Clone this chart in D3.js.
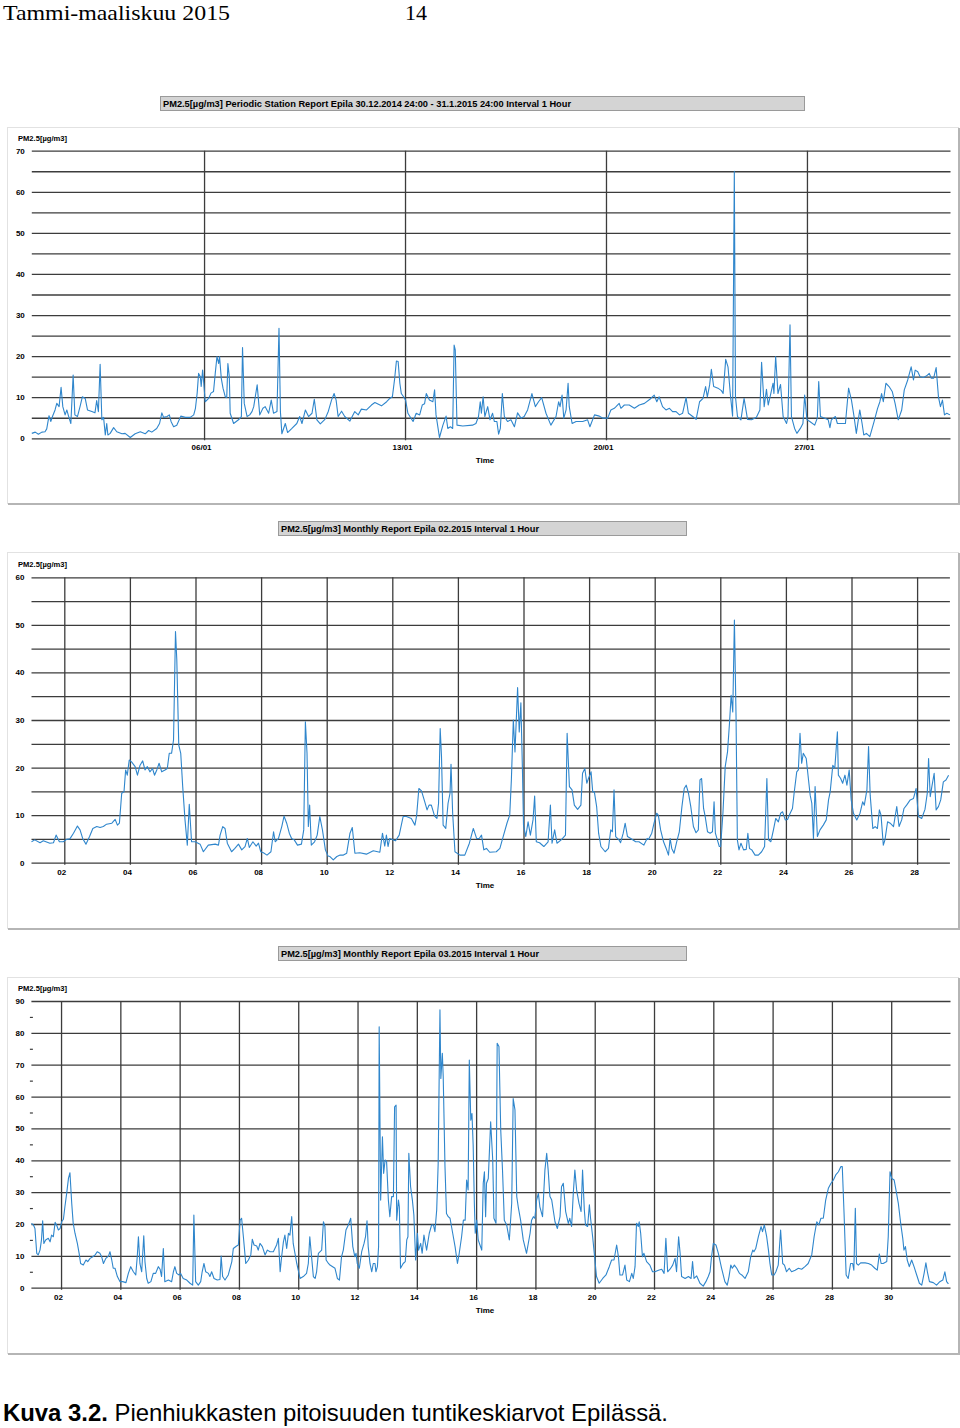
<!DOCTYPE html>
<html><head><meta charset="utf-8">
<script src="https://cdn.jsdelivr.net/npm/d3@7"></script>
<style>body{margin:0;background:#fff}svg{display:block}</style>
</head><body>
<svg id="c" width="960" height="1428"></svg>
<script>
// ---- DATA: [days since period start, PM2.5 µg/m3] ----
const janData = [[0,1.2],[0.12,1.5],[0.23,1.0],[0.35,1.5],[0.46,1.6],[0.52,2.3],[0.6,5.5],[0.66,4.1],[0.73,5.5],[0.81,6.9],[0.87,8.5],[0.95,7.7],[1.02,12.4],[1.08,7.7],[1.16,5.7],[1.22,6.9],[1.28,5.4],[1.36,3.6],[1.44,15.4],[1.5,5.7],[1.59,5.3],[1.68,7.7],[1.76,10.1],[1.86,9.7],[1.94,6.9],[2.09,6.5],[2.2,6.2],[2.26,9.2],[2.32,6.5],[2.38,18.0],[2.44,4.5],[2.5,5.1],[2.56,0.8],[2.61,3.6],[2.65,0.8],[2.73,1.2],[2.85,2.6],[2.96,1.6],[3.14,1.1],[3.25,1.2],[3.43,0.2],[3.6,1.1],[3.78,1.6],[3.95,1.1],[4.07,1.9],[4.18,1.5],[4.35,2.4],[4.45,3.6],[4.53,6.2],[4.59,5.1],[4.71,5.3],[4.79,5.7],[4.85,4.1],[4.94,2.8],[5.05,3.2],[5.19,5.4],[5.35,5.1],[5.52,5.1],[5.64,5.7],[5.7,7.3],[5.76,11.0],[5.81,15.8],[5.87,15.0],[5.9,12.6],[5.95,16.6],[5.99,13.4],[6.04,8.9],[6.16,9.7],[6.24,11.0],[6.33,11.4],[6.39,15.8],[6.45,19.9],[6.51,18.2],[6.54,19.9],[6.6,14.6],[6.66,12.2],[6.74,10.1],[6.79,9.9],[6.83,18.2],[6.88,15.0],[6.91,6.1],[7.03,3.6],[7.2,4.5],[7.3,5.3],[7.34,22.1],[7.4,8.5],[7.5,5.3],[7.59,5.7],[7.67,6.5],[7.73,7.7],[7.85,13.0],[7.94,5.7],[8.05,7.3],[8.13,7.7],[8.25,6.1],[8.34,9.3],[8.42,6.1],[8.54,6.5],[8.61,26.8],[8.66,6.5],[8.71,1.1],[8.83,3.6],[8.91,1.4],[9.06,2.4],[9.23,3.6],[9.33,5.3],[9.41,3.6],[9.53,6.9],[9.64,5.3],[9.76,6.1],[9.84,9.5],[9.93,4.5],[10.05,3.5],[10.21,4.6],[10.33,6.6],[10.44,9.3],[10.53,10.9],[10.6,9.3],[10.67,5.3],[10.79,6.6],[10.9,5.3],[11.08,4.2],[11.25,6.5],[11.37,5.7],[11.48,7.1],[11.66,6.9],[11.83,8.1],[11.95,8.7],[12.18,7.9],[12.36,8.9],[12.47,9.7],[12.56,10.1],[12.64,14.6],[12.7,18.8],[12.76,18.7],[12.82,13.4],[12.87,10.9],[12.95,10.1],[13.02,9.3],[13.1,6.1],[13.28,4.1],[13.39,6.1],[13.51,5.7],[13.6,8.1],[13.68,8.4],[13.74,10.9],[13.85,9.3],[13.97,8.9],[14.03,11.8],[14.08,5.7],[14.2,0.2],[14.32,3.2],[14.43,5.4],[14.49,2.4],[14.58,2.8],[14.66,2.4],[14.71,22.7],[14.75,21.5],[14.81,3.2],[15.01,3.0],[15.35,3.2],[15.47,3.6],[15.56,5.3],[15.62,8.9],[15.66,6.1],[15.72,10.1],[15.78,5.3],[15.88,7.7],[15.96,4.5],[16.05,6.1],[16.11,4.1],[16.2,4.1],[16.26,1.0],[16.32,2.4],[16.39,10.9],[16.46,5.3],[16.57,4.1],[16.69,4.5],[16.81,2.8],[16.92,6.2],[17.04,4.9],[17.15,5.3],[17.27,6.9],[17.42,10.9],[17.54,7.7],[17.65,8.9],[17.76,9.9],[17.91,6.1],[18.08,3.2],[18.26,5.3],[18.35,8.9],[18.4,7.7],[18.47,10.5],[18.53,4.9],[18.61,6.9],[18.68,13.4],[18.72,7.7],[18.82,3.6],[18.96,4.1],[19.19,4.1],[19.36,4.5],[19.44,2.8],[19.6,5.7],[19.77,5.4],[19.89,4.9],[20.06,4.9],[20.17,6.9],[20.29,7.3],[20.35,7.7],[20.46,8.5],[20.52,7.3],[20.64,8.1],[20.81,8.1],[20.99,7.3],[21.16,8.1],[21.34,8.5],[21.53,9.5],[21.68,10.5],[21.77,8.9],[21.85,10.1],[21.97,7.7],[22.09,6.9],[22.21,7.3],[22.32,6.5],[22.44,6.5],[22.56,5.7],[22.67,6.1],[22.79,9.9],[22.87,6.1],[23.02,5.3],[23.14,4.6],[23.26,8.9],[23.38,9.7],[23.47,12.6],[23.53,10.1],[23.61,13.0],[23.67,16.8],[23.75,12.6],[23.9,12.2],[24.02,11.6],[24.08,10.9],[24.17,19.2],[24.25,17.4],[24.34,10.1],[24.41,5.4],[24.47,65.0],[24.51,10.1],[24.58,5.3],[24.7,4.5],[24.81,9.7],[24.93,4.6],[25.07,4.5],[25.24,5.1],[25.36,6.9],[25.42,18.5],[25.51,7.7],[25.59,11.9],[25.65,8.1],[25.74,10.9],[25.82,13.4],[25.85,10.9],[25.91,19.9],[25.99,10.9],[26.08,13.1],[26.17,5.3],[26.29,3.6],[26.34,5.3],[26.41,27.6],[26.46,5.3],[26.57,2.4],[26.65,1.2],[26.77,2.4],[26.86,3.6],[26.92,10.5],[27.0,4.5],[27.1,4.1],[27.27,3.2],[27.36,4.9],[27.41,13.8],[27.47,5.3],[27.62,4.9],[27.74,4.5],[27.8,2.6],[27.85,4.5],[27.99,5.3],[28.06,3.6],[28.2,3.6],[28.34,3.6],[28.45,12.2],[28.55,9.3],[28.64,5.3],[28.72,1.2],[28.84,6.9],[28.92,3.6],[28.98,0.8],[29.07,1.2],[29.19,0.4],[29.34,4.1],[29.46,7.3],[29.54,8.9],[29.6,10.9],[29.66,8.9],[29.75,13.4],[29.86,12.6],[29.97,11.4],[30.07,8.5],[30.18,4.5],[30.3,6.9],[30.39,11.8],[30.51,14.2],[30.63,17.4],[30.71,14.2],[30.77,16.6],[30.86,16.2],[30.94,15.0],[31.06,14.8],[31.17,15.2],[31.26,15.8],[31.33,14.6],[31.41,14.6],[31.5,17.2],[31.58,10.1],[31.65,7.7],[31.72,9.3],[31.79,5.7],[31.87,6.1],[31.98,5.7]];

const febData = [[0.0,4.4],[0.1,4.8],[0.26,4.2],[0.36,4.6],[0.56,4.1],[0.67,4.2],[0.75,5.8],[0.85,4.4],[0.97,4.4],[1.07,4.9],[1.17,5.0],[1.28,6.2],[1.4,7.7],[1.48,6.9],[1.56,5.1],[1.66,3.9],[1.77,5.5],[1.87,7.2],[1.99,7.6],[2.09,7.4],[2.19,7.6],[2.29,8.1],[2.45,8.3],[2.55,9.1],[2.62,7.9],[2.68,8.3],[2.75,14.6],[2.82,14.9],[2.87,19.5],[2.92,18.4],[2.98,21.6],[3.05,21.2],[3.16,20.2],[3.23,18.4],[3.31,20.5],[3.39,21.4],[3.46,19.5],[3.53,20.2],[3.61,19.1],[3.69,19.8],[3.75,18.4],[3.82,19.5],[3.89,20.9],[3.97,19.1],[4.07,19.5],[4.14,19.8],[4.2,23.0],[4.27,23.0],[4.33,25.8],[4.39,48.6],[4.43,42.6],[4.49,24.7],[4.55,23.0],[4.61,16.0],[4.68,9.0],[4.75,3.7],[4.81,12.3],[4.88,4.4],[4.99,4.4],[5.14,3.9],[5.24,2.3],[5.39,3.7],[5.6,3.9],[5.7,3.7],[5.75,5.8],[5.83,7.6],[5.9,7.2],[5.97,4.1],[6.1,2.3],[6.2,3.0],[6.31,3.9],[6.41,2.7],[6.51,3.4],[6.58,5.1],[6.64,3.2],[6.75,4.4],[6.85,3.5],[6.92,4.1],[6.99,2.3],[7.07,2.1],[7.18,1.6],[7.3,2.3],[7.38,6.5],[7.43,4.4],[7.53,5.1],[7.63,7.6],[7.7,9.8],[7.78,8.3],[7.86,6.2],[7.93,5.1],[8.01,4.8],[8.11,3.7],[8.23,3.9],[8.3,6.9],[8.35,29.6],[8.4,23.0],[8.44,7.6],[8.48,12.1],[8.53,3.7],[8.63,4.4],[8.71,5.8],[8.79,9.7],[8.87,6.9],[8.96,2.7],[9.04,1.4],[9.1,1.3],[9.2,0.6],[9.31,1.3],[9.41,1.6],[9.51,1.6],[9.61,2.0],[9.71,6.2],[9.78,7.4],[9.86,2.0],[10.01,2.1],[10.21,1.8],[10.42,2.5],[10.62,2.2],[10.7,6.2],[10.77,3.5],[10.82,5.8],[10.87,3.4],[10.92,5.1],[11.02,4.8],[11.1,4.6],[11.21,5.8],[11.33,9.7],[11.43,9.7],[11.58,9.3],[11.69,7.9],[11.74,9.8],[11.81,15.6],[11.89,15.1],[11.99,12.8],[12.06,11.1],[12.12,12.1],[12.19,12.1],[12.29,9.8],[12.36,9.3],[12.41,12.5],[12.46,28.2],[12.5,22.3],[12.55,7.9],[12.63,7.2],[12.7,12.5],[12.76,14.6],[12.79,20.7],[12.84,10.4],[12.91,2.3],[13.06,1.6],[13.21,1.6],[13.35,4.1],[13.47,7.2],[13.57,5.1],[13.65,5.1],[13.72,5.8],[13.79,2.7],[13.87,3.0],[13.97,2.2],[14.17,2.3],[14.28,3.0],[14.38,5.5],[14.5,8.4],[14.58,10.0],[14.63,17.4],[14.69,30.0],[14.74,23.3],[14.82,36.8],[14.87,27.5],[14.92,33.6],[14.97,18.8],[15.0,7.9],[15.07,5.5],[15.14,8.6],[15.21,5.8],[15.29,9.0],[15.34,14.0],[15.39,4.4],[15.49,4.2],[15.62,3.4],[15.75,4.4],[15.82,12.1],[15.87,4.1],[15.95,6.9],[16.02,4.1],[16.15,4.8],[16.28,5.8],[16.33,27.2],[16.4,16.0],[16.48,15.3],[16.55,12.1],[16.65,11.2],[16.75,12.1],[16.8,18.8],[16.87,19.8],[16.93,16.7],[16.98,17.7],[17.06,19.1],[17.11,14.9],[17.16,14.9],[17.23,11.8],[17.29,6.2],[17.36,3.4],[17.49,2.3],[17.59,3.0],[17.66,6.9],[17.71,6.5],[17.76,15.3],[17.81,5.5],[17.91,4.8],[17.96,4.2],[18.04,6.2],[18.1,8.3],[18.17,5.5],[18.27,5.1],[18.42,4.4],[18.52,4.4],[18.67,3.7],[18.77,5.1],[18.81,4.9],[18.91,6.2],[18.98,8.3],[19.06,10.4],[19.11,10.0],[19.18,6.9],[19.27,4.4],[19.35,3.0],[19.42,1.6],[19.47,5.1],[19.52,3.0],[19.59,2.0],[19.67,4.4],[19.75,6.5],[19.83,11.8],[19.9,15.6],[19.96,16.3],[20.03,14.6],[20.1,11.8],[20.18,7.6],[20.26,6.3],[20.33,6.9],[20.38,17.4],[20.43,17.7],[20.49,11.4],[20.54,9.7],[20.61,6.5],[20.69,6.2],[20.76,6.5],[20.81,12.8],[20.85,6.2],[20.91,4.8],[20.97,3.4],[21.01,3.4],[21.08,10.4],[21.15,20.2],[21.22,23.3],[21.28,29.3],[21.33,35.2],[21.38,31.7],[21.43,51.0],[21.48,30.7],[21.52,4.8],[21.57,2.7],[21.63,4.1],[21.71,2.7],[21.79,2.8],[21.84,6.2],[21.89,3.0],[21.96,2.7],[22.06,1.6],[22.16,1.6],[22.26,2.3],[22.35,3.4],[22.42,17.7],[22.47,4.8],[22.54,4.4],[22.62,6.9],[22.69,9.3],[22.77,8.6],[22.84,10.4],[22.9,10.7],[22.98,9.0],[23.05,9.1],[23.13,10.4],[23.2,11.4],[23.25,14.6],[23.33,19.1],[23.38,19.5],[23.43,27.2],[23.48,20.9],[23.53,23.0],[23.62,21.9],[23.69,17.4],[23.74,14.2],[23.79,12.5],[23.84,5.1],[23.89,16.0],[23.96,5.5],[24.04,6.9],[24.14,7.9],[24.23,9.0],[24.3,13.2],[24.35,14.9],[24.43,20.5],[24.49,19.8],[24.57,27.5],[24.6,18.4],[24.67,17.7],[24.73,16.7],[24.8,18.4],[24.86,16.3],[24.93,19.5],[24.99,13.2],[25.06,10.4],[25.16,9.0],[25.26,10.4],[25.34,12.8],[25.39,12.1],[25.47,15.3],[25.52,24.4],[25.57,14.2],[25.65,7.2],[25.72,7.6],[25.79,7.2],[25.85,11.1],[25.9,10.0],[25.97,3.7],[26.02,4.8],[26.1,8.6],[26.18,8.3],[26.28,7.6],[26.38,11.8],[26.45,7.6],[26.53,9.0],[26.6,11.4],[26.68,12.1],[26.79,13.2],[26.89,13.5],[26.97,15.6],[27.04,9.7],[27.14,9.3],[27.24,11.2],[27.31,14.6],[27.35,21.9],[27.4,13.9],[27.45,16.0],[27.52,18.8],[27.58,11.1],[27.65,11.8],[27.72,13.2],[27.8,17.0],[27.88,17.4],[27.96,18.4]];

const marData = [[0.0,20.2],[0.07,19.7],[0.12,18.6],[0.18,10.8],[0.23,10.3],[0.29,11.8],[0.34,15.0],[0.38,21.0],[0.42,13.9],[0.48,15.0],[0.57,15.5],[0.63,14.4],[0.68,16.5],[0.74,16.0],[0.8,20.5],[0.85,19.7],[0.91,18.1],[0.97,18.6],[1.02,20.7],[1.08,21.5],[1.13,25.4],[1.19,29.6],[1.25,34.3],[1.3,36.1],[1.36,26.5],[1.41,20.2],[1.47,17.1],[1.55,13.9],[1.61,10.8],[1.66,7.6],[1.75,7.1],[1.84,8.7],[1.9,8.2],[1.98,9.2],[2.07,9.7],[2.15,10.3],[2.22,11.3],[2.31,10.8],[2.37,9.7],[2.43,7.6],[2.51,9.2],[2.6,9.9],[2.65,11.3],[2.71,8.7],[2.76,6.1],[2.82,6.1],[2.9,3.5],[2.99,1.9],[3.08,1.9],[3.19,1.6],[3.27,4.5],[3.35,6.6],[3.44,5.0],[3.52,4.0],[3.57,9.7],[3.61,16.0],[3.66,7.6],[3.72,5.0],[3.79,16.3],[3.83,8.2],[3.89,2.9],[3.94,1.4],[4.03,1.9],[4.11,4.5],[4.19,4.5],[4.28,6.6],[4.34,5.8],[4.39,3.5],[4.45,12.3],[4.5,1.9],[4.62,2.4],[4.73,1.9],[4.79,5.0],[4.84,6.6],[4.9,4.5],[4.98,4.0],[5.03,4.5],[5.12,2.9],[5.24,2.4],[5.35,1.4],[5.44,0.8],[5.48,22.8],[5.54,1.9],[5.63,0.8],[5.71,1.9],[5.76,5.0],[5.82,7.6],[5.88,5.0],[5.97,4.5],[6.02,3.5],[6.08,5.0],[6.16,2.9],[6.27,2.4],[6.36,2.6],[6.4,9.9],[6.45,3.5],[6.53,2.4],[6.64,4.0],[6.76,8.2],[6.81,12.3],[6.92,13.1],[6.98,13.4],[7.04,21.2],[7.09,21.8],[7.15,16.0],[7.23,7.6],[7.32,8.7],[7.4,10.3],[7.45,15.2],[7.51,13.4],[7.6,13.1],[7.65,11.8],[7.71,13.9],[7.79,12.9],[7.88,10.3],[7.96,11.8],[8.05,11.3],[8.16,11.3],[8.27,13.4],[8.33,15.5],[8.39,5.0],[8.44,9.7],[8.5,14.4],[8.55,16.5],[8.61,12.3],[8.67,17.1],[8.72,16.5],[8.78,22.3],[8.83,13.9],[8.89,10.8],[8.95,7.6],[9.0,5.5],[9.06,2.9],[9.17,3.5],[9.28,4.5],[9.34,7.6],[9.39,16.0],[9.45,9.7],[9.51,3.5],[9.57,2.9],[9.62,5.0],[9.68,10.8],[9.79,11.8],[9.85,20.7],[9.9,19.2],[9.94,8.7],[10.02,7.6],[10.07,7.1],[10.24,6.1],[10.32,2.9],[10.39,2.4],[10.46,9.7],[10.52,11.8],[10.61,18.1],[10.69,19.7],[10.77,21.8],[10.84,12.9],[10.91,9.7],[10.95,10.8],[10.99,7.6],[11.06,6.1],[11.14,11.3],[11.22,13.9],[11.27,16.0],[11.32,21.0],[11.36,12.9],[11.42,7.6],[11.48,5.0],[11.53,7.6],[11.59,7.6],[11.62,5.0],[11.67,6.6],[11.71,12.9],[11.73,81.9],[11.78,27.5],[11.84,47.4],[11.88,35.9],[11.93,40.1],[11.98,39.6],[12.04,27.5],[12.09,22.3],[12.15,28.6],[12.21,28.6],[12.25,56.8],[12.3,57.3],[12.32,21.2],[12.38,27.5],[12.41,25.4],[12.45,6.1],[12.54,7.6],[12.61,8.2],[12.66,15.0],[12.7,16.0],[12.73,42.2],[12.79,31.7],[12.85,27.5],[12.9,22.8],[12.96,8.7],[13.02,17.1],[13.06,11.8],[13.13,13.9],[13.18,10.8],[13.24,16.5],[13.33,11.8],[13.42,17.1],[13.5,19.7],[13.56,19.7],[13.61,17.6],[13.67,24.4],[13.72,39.0],[13.78,87.2],[13.81,65.7],[13.86,73.6],[13.89,66.2],[13.95,38.0],[14.0,23.3],[14.06,22.3],[14.12,21.8],[14.21,17.1],[14.29,12.9],[14.37,7.6],[14.43,10.8],[14.51,16.0],[14.57,21.2],[14.63,21.2],[14.68,33.8],[14.73,30.7],[14.77,71.5],[14.82,52.6],[14.86,54.7],[14.9,44.8],[14.94,26.5],[14.97,17.1],[15.02,21.2],[15.07,15.0],[15.13,13.4],[15.19,11.8],[15.24,32.8],[15.28,36.4],[15.32,22.3],[15.35,32.8],[15.41,34.3],[15.49,52.1],[15.56,40.1],[15.6,21.8],[15.67,20.2],[15.71,76.7],[15.77,75.7],[15.83,49.5],[15.89,36.9],[15.95,21.2],[16.03,19.7],[16.12,15.0],[16.2,26.5],[16.25,59.4],[16.31,55.8],[16.37,28.6],[16.42,25.4],[16.5,21.2],[16.59,15.0],[16.7,10.8],[16.82,17.1],[16.87,21.2],[16.93,22.3],[16.98,21.8],[17.04,27.5],[17.1,29.6],[17.15,25.4],[17.24,22.3],[17.32,36.9],[17.38,42.2],[17.43,36.9],[17.49,28.6],[17.55,27.5],[17.6,24.4],[17.66,20.7],[17.74,18.6],[17.83,22.3],[17.88,31.7],[17.94,32.8],[18.02,23.9],[18.11,20.2],[18.16,21.8],[18.22,19.2],[18.28,30.1],[18.33,36.9],[18.39,30.7],[18.47,26.5],[18.54,23.9],[18.59,36.9],[18.65,24.4],[18.69,19.7],[18.76,19.2],[18.82,26.0],[18.86,21.8],[18.93,16.0],[18.99,10.3],[19.06,3.5],[19.15,1.4],[19.27,2.9],[19.38,4.0],[19.49,6.6],[19.57,8.7],[19.65,8.7],[19.74,13.4],[19.8,9.7],[19.85,4.0],[19.94,4.0],[20.02,7.1],[20.08,2.4],[20.17,1.9],[20.25,4.5],[20.3,2.9],[20.36,6.6],[20.41,20.2],[20.47,19.2],[20.5,20.7],[20.55,17.1],[20.61,9.7],[20.66,10.8],[20.75,8.2],[20.86,7.1],[20.95,5.0],[21.03,5.0],[21.15,5.5],[21.26,5.8],[21.34,4.5],[21.4,15.5],[21.46,5.0],[21.54,5.8],[21.63,7.1],[21.71,9.2],[21.76,5.0],[21.83,16.0],[21.88,10.8],[21.93,3.5],[22.05,2.9],[22.16,3.5],[22.25,2.9],[22.3,8.2],[22.35,2.9],[22.44,3.7],[22.55,1.4],[22.66,0.5],[22.75,1.9],[22.83,3.5],[22.89,5.0],[22.94,9.7],[23.0,13.9],[23.09,13.4],[23.17,10.8],[23.28,6.1],[23.39,1.9],[23.47,0.8],[23.53,3.5],[23.59,7.1],[23.64,6.1],[23.71,7.1],[23.79,6.1],[23.88,4.5],[23.96,4.0],[24.07,2.9],[24.18,5.0],[24.26,9.7],[24.33,11.8],[24.37,11.3],[24.43,12.3],[24.52,16.0],[24.61,19.2],[24.66,17.6],[24.72,19.7],[24.8,16.0],[24.86,11.8],[24.91,7.6],[24.97,4.0],[25.05,4.0],[25.11,5.0],[25.19,7.1],[25.27,18.1],[25.34,7.6],[25.4,7.1],[25.47,5.0],[25.56,6.1],[25.64,5.0],[25.76,5.5],[25.87,6.1],[25.98,5.8],[26.09,6.6],[26.2,7.6],[26.32,10.3],[26.4,16.0],[26.49,20.7],[26.56,19.7],[26.63,21.8],[26.71,21.8],[26.79,27.5],[26.88,31.2],[26.97,32.8],[27.05,33.8],[27.13,35.4],[27.22,36.4],[27.3,38.0],[27.35,38.0],[27.41,23.3],[27.48,4.0],[27.55,2.9],[27.63,7.6],[27.7,7.6],[27.74,5.5],[27.79,24.9],[27.83,7.6],[27.89,7.1],[27.97,7.8],[28.12,7.8],[28.23,7.6],[28.34,7.1],[28.45,6.1],[28.53,5.5],[28.6,10.6],[28.66,7.6],[28.73,7.6],[28.85,8.2],[28.9,16.0],[28.96,36.4],[29.02,34.3],[29.1,33.8],[29.16,30.7],[29.24,26.5],[29.32,20.2],[29.39,15.5],[29.43,11.8],[29.48,12.9],[29.54,8.7],[29.61,6.6],[29.69,8.7],[29.77,6.6],[29.86,4.0],[29.95,1.4],[30.03,0.8],[30.11,4.5],[30.17,7.8],[30.22,5.0],[30.29,1.9],[30.42,1.6],[30.53,0.8],[30.64,1.9],[30.74,2.4],[30.81,5.0],[30.87,1.9],[30.93,1.2]];

// tick labels
const janTickLabels = ["06/01", "13/01", "20/01", "27/01"];
const janTickDays = [6, 13, 20, 27];            // day of January
const febTickLabels = ["02","04","06","08","10","12","14","16","18","20","22","24","26","28"];
const marTickLabels = ["02","04","06","08","10","12","14","16","18","20","22","24","26","28","30"];
const yLabel = "PM2.5[µg/m3]";
const titles = [
  "PM2.5[µg/m3] Periodic Station Report Epila 30.12.2014 24:00 - 31.1.2015 24:00 Interval 1 Hour",
  "PM2.5[µg/m3] Monthly Report Epila 02.2015 Interval 1 Hour",
  "PM2.5[µg/m3] Monthly Report Epila 03.2015 Interval 1 Hour"
];

// ---- DRAWING ----
const svg = d3.select("#c");
const FONT = "'Liberation Sans', Arial, Helvetica, sans-serif";
const LINE = "#2f86cc";
const GRID = "#3c3c3c";

svg.append("text").attr("x", 3).attr("y", 20)
  .attr("font-family", "'Liberation Serif','Times New Roman',serif").attr("font-size", 22)
  .attr("textLength", 227).attr("lengthAdjust", "spacingAndGlyphs")
  .text("Tammi-maaliskuu 2015");
svg.append("text").attr("x", 405).attr("y", 20)
  .attr("font-family", "'Liberation Serif','Times New Roman',serif").attr("font-size", 22)
  .text("14");

const cap = svg.append("text").attr("x", 3).attr("y", 1421)
  .attr("font-family", FONT).attr("font-size", 24)
  .attr("textLength", 665).attr("lengthAdjust", "spacingAndGlyphs");
cap.append("tspan").attr("font-weight", "bold").text("Kuva 3.2.");
cap.append("tspan").text(" Pienhiukkasten pitoisuuden tuntikeskiarvot Epilässä.");

function utc(y, m, d) { return new Date(Date.UTC(y, m, d)); }

const panels = [
  { data: janData, start: utc(2014, 11, 31), end: utc(2015, 1, 1),
    ticks: janTickDays.map(d => utc(2015, 0, d)), labels: janTickLabels,
    yMax: 70, grid: 5, minor: null,
    frame: [7, 127, 951, 376], title: titles[0], tbar: [160, 96, 644, 14], tlen: 408,
    x0: 31.8, x1: 950.5, y0: 438.3, yTop: 150.7 },
  { data: febData, start: utc(2015, 1, 1), end: utc(2015, 2, 1),
    ticks: febTickLabels.map(l => utc(2015, 1, +l)), labels: febTickLabels,
    yMax: 60, grid: 5, minor: null,
    frame: [7, 552, 951, 376], title: titles[1], tbar: [278, 521, 408, 14], tlen: 258,
    x0: 31.5, x1: 949.9, y0: 862.7, yTop: 577.3 },
  { data: marData, start: utc(2015, 2, 1), end: utc(2015, 3, 1),
    ticks: marTickLabels.map(l => utc(2015, 2, +l)), labels: marTickLabels,
    yMax: 90, grid: 10, minor: 5,
    frame: [7, 977, 951, 376], title: titles[2], tbar: [278, 946, 408, 14], tlen: 258,
    x0: 31.4, x1: 950.5, y0: 1287.7, yTop: 1001 }
];

panels.forEach(p => {
  // frame with shadow
  const [fx, fy, fw, fh] = p.frame;
  svg.append("rect").attr("x", fx + 0.5).attr("y", fy + 0.5).attr("width", fw).attr("height", fh)
    .attr("fill", "#fff").attr("stroke", "#e2e2e2");
  svg.append("path").attr("d", `M${fx + fw + 1},${fy + 1}V${fy + fh + 1}H${fx + 1}`)
    .attr("fill", "none").attr("stroke", "#b5b5b5").attr("stroke-width", 2);

  // title bar
  const [tx, ty, tw, th] = p.tbar;
  svg.append("rect").attr("x", tx + 0.5).attr("y", ty + 0.5).attr("width", tw).attr("height", th)
    .attr("fill", "#d4d4d4").attr("stroke", "#9a9a9a");
  svg.append("text").attr("x", tx + 3).attr("y", ty + 10.5)
    .attr("font-family", FONT).attr("font-size", 8.5).attr("font-weight", "bold")
    .attr("textLength", p.tlen).attr("lengthAdjust", "spacingAndGlyphs")
    .text(p.title);

  const x = d3.scaleUtc().domain([p.start, p.end]).range([p.x0, p.x1]);
  const y = d3.scaleLinear().domain([0, p.yMax]).range([p.y0, p.yTop]);
  const W = p.x1 - p.x0, H = p.y0 - p.yTop;

  // horizontal grid + y labels
  const yAxis = d3.axisLeft(y)
    .tickValues(d3.range(0, p.yMax + 0.01, p.grid))
    .tickSize(-W).tickPadding(7)
    .tickFormat(d => d % 10 === 0 ? d : "");
  const gy = svg.append("g").attr("transform", `translate(${p.x0},0)`).call(yAxis);
  gy.select(".domain").remove();
  gy.selectAll(".tick line").attr("stroke", GRID).attr("stroke-width", 1.3);
  gy.selectAll(".tick text").attr("font-family", FONT).attr("font-size", 8)
    .attr("font-weight", "bold").attr("fill", "#000");

  if (p.minor) {
    const ym = d3.axisLeft(y)
      .tickValues(d3.range(p.minor, p.yMax, p.grid))
      .tickSize(3).tickFormat("");
    const gm = svg.append("g").attr("transform", `translate(${p.x0 + 1.5},0)`).call(ym);
    gm.select(".domain").remove();
    gm.selectAll(".tick line").attr("stroke", GRID).attr("stroke-width", 1.2);
  }

  // vertical grid + x labels
  const xAxis = d3.axisBottom(x).tickValues(p.ticks)
    .tickSize(-H).tickFormat((d, i) => p.labels[i]);
  const gx = svg.append("g").attr("transform", `translate(0,${p.y0})`).call(xAxis);
  gx.select(".domain").remove();
  gx.selectAll(".tick line").attr("stroke", GRID).attr("stroke-width", 1.3).attr("y1", 2);
  gx.selectAll(".tick text").attr("font-family", FONT).attr("font-size", 8)
    .attr("font-weight", "bold").attr("fill", "#000")
    .attr("y", 12).attr("dy", 0).attr("dx", -3);

  // axis titles
  svg.append("text").attr("x", 18).attr("y", p.yTop - 10)
    .attr("font-family", FONT).attr("font-size", 8).attr("font-weight", "bold")
    .attr("textLength", 49).attr("lengthAdjust", "spacingAndGlyphs")
    .text(yLabel);
  svg.append("text").attr("x", 485).attr("y", p.y0 + 25).attr("text-anchor", "middle")
    .attr("font-family", FONT).attr("font-size", 8).attr("font-weight", "bold")
    .text("Time");

  // series
  const line = d3.line()
    .x(d => x(new Date(p.start.getTime() + d[0] * 864e5)))
    .y(d => y(d[1]));
  svg.append("path").datum(p.data).attr("d", line)
    .attr("fill", "none").attr("stroke", LINE).attr("stroke-width", 1.1)
    .attr("stroke-linejoin", "round");
});
</script>
</body></html>
